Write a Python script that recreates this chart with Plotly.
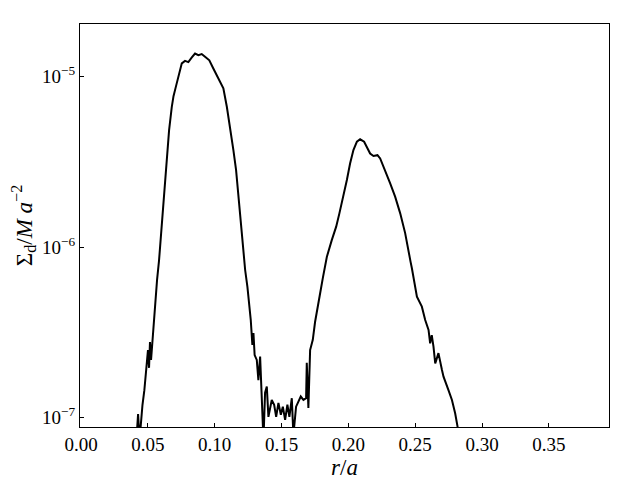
import plotly.graph_objects as go

r_over_a = [
    0.0412, 0.0427, 0.0438, 0.0449, 0.0460, 0.0474, 0.0483, 0.0492, 0.0501, 0.0509,
    0.0516, 0.0524, 0.0535, 0.0541, 0.0554, 0.0569, 0.0584, 0.0604, 0.0621, 0.0641,
    0.0659, 0.0679, 0.0692, 0.0709, 0.0722, 0.0736, 0.0754, 0.0778, 0.0803, 0.0829,
    0.0853, 0.0878, 0.0903, 0.0928, 0.0960, 0.0990, 0.1028, 0.1065, 0.1091, 0.1115,
    0.1140, 0.1160, 0.1177, 0.1203, 0.1228, 0.1245, 0.1270, 0.1282, 0.1290, 0.1299,
    0.1315, 0.1327, 0.1340, 0.1353, 0.1365, 0.1377, 0.1390, 0.1402, 0.1427, 0.1445,
    0.1460, 0.1477, 0.1495, 0.1510, 0.1527, 0.1544, 0.1559, 0.1577, 0.1589, 0.1609,
    0.1626, 0.1644, 0.1664, 0.1684, 0.1689, 0.1701, 0.1714, 0.1734, 0.1751, 0.1769,
    0.1789, 0.1809, 0.1839, 0.1876, 0.1909, 0.1933, 0.1963, 0.1989, 0.2013, 0.2038,
    0.2064, 0.2088, 0.2118, 0.2138, 0.2163, 0.2188, 0.2218, 0.2238, 0.2275, 0.2313,
    0.2350, 0.2388, 0.2425, 0.2450, 0.2466, 0.2475, 0.2500, 0.2513, 0.2550, 0.2575,
    0.2600, 0.2612, 0.2624, 0.2637, 0.2650, 0.2674, 0.2700, 0.2712, 0.2749, 0.2775,
    0.2799, 0.2817, 0.2829,
]

sigma_d = [
    6.9e-8, 1.05e-7, 7.4e-8, 9.7e-8, 1.19e-7, 1.45e-7, 1.71e-7, 1.91e-7, 2.49e-7, 1.96e-7,
    2.78e-7, 2.18e-7, 2.93e-7, 3.40e-7, 4.71e-7, 6.43e-7, 8.41e-7, 1.31e-6, 2.08e-6, 3.24e-6,
    4.87e-6, 6.64e-6, 7.70e-6, 8.70e-6, 9.57e-6, 1.05e-5, 1.20e-5, 1.24e-5, 1.22e-5, 1.30e-5,
    1.37e-5, 1.34e-5, 1.36e-5, 1.31e-5, 1.25e-5, 1.12e-5, 9.79e-6, 8.55e-6, 6.67e-6, 5.09e-6,
    3.71e-6, 2.84e-6, 2.08e-6, 1.21e-6, 7.35e-7, 5.85e-7, 3.74e-7, 2.67e-7, 3.14e-7, 2.33e-7,
    2.18e-7, 1.66e-7, 2.28e-7, 1.45e-7, 7.4e-8, 1.40e-7, 1.52e-7, 1.01e-7, 1.27e-7, 1.19e-7,
    1.01e-7, 1.22e-7, 1.04e-7, 1.16e-7, 9.7e-8, 1.19e-7, 1.01e-7, 1.30e-7, 7.9e-8, 1.16e-7,
    1.24e-7, 1.33e-7, 1.27e-7, 1.30e-7, 2.10e-7, 1.14e-7, 2.49e-7, 2.86e-7, 3.64e-7, 4.29e-7,
    5.37e-7, 6.59e-7, 8.77e-7, 1.10e-6, 1.32e-6, 1.58e-6, 1.98e-6, 2.48e-6, 3.10e-6, 3.72e-6,
    4.16e-6, 4.30e-6, 4.16e-6, 3.88e-6, 3.55e-6, 3.43e-6, 3.47e-6, 3.32e-6, 2.84e-6, 2.37e-6,
    1.98e-6, 1.58e-6, 1.21e-6, 9.21e-7, 8.18e-7, 7.55e-7, 5.86e-7, 5.13e-7, 4.48e-7, 3.74e-7,
    3.27e-7, 2.73e-7, 3.05e-7, 2.61e-7, 2.08e-7, 2.39e-7, 1.91e-7, 1.74e-7, 1.45e-7, 1.27e-7,
    1.06e-7, 8.85e-8, 6.9e-8,
]

x_tick_vals = [0.00, 0.05, 0.10, 0.15, 0.20, 0.25, 0.30, 0.35]
x_tick_text = ["0.00", "0.05", "0.10", "0.15", "0.20", "0.25", "0.30", "0.35"]
y_tick_vals = [1e-7, 1e-6, 1e-5]
y_tick_text = ["10<sup>−7</sup>", "10<sup>−6</sup>", "10<sup>−5</sup>"]

font_family = "Liberation Serif, DejaVu Serif, serif"

fig = go.Figure()
fig.add_trace(go.Scatter(
    x=r_over_a, y=sigma_d, mode="lines",
    line=dict(color="black", width=2),
    showlegend=False,
))

# page body has an 8px margin, so the figure is sized/offset to compensate
fig.update_layout(
    width=632, height=472,
    margin=dict(l=72, r=31, t=16, b=53, autoexpand=False),
    paper_bgcolor="white", plot_bgcolor="white",
    font=dict(family=font_family, color="black", size=19),
)
fig.update_xaxes(
    range=[-0.00075, 0.395], automargin=False,
    tickvals=x_tick_vals, ticktext=x_tick_text,
    ticks="inside", ticklen=4, tickwidth=1, tickcolor="black",
    showline=True, linecolor="black", linewidth=1.2, mirror=True,
    showgrid=False, zeroline=False,
    tickfont=dict(size=19, family=font_family),
    title=dict(text="<i>r</i>/<i>a</i>", font=dict(size=23, family=font_family)),
)
fig.update_yaxes(
    type="log", range=[-7.055, -4.69], automargin=False,
    tickvals=y_tick_vals, ticktext=y_tick_text,
    ticks="inside", ticklen=4, tickwidth=1, tickcolor="black",
    showline=True, linecolor="black", linewidth=1.2, mirror=True,
    showgrid=False, zeroline=False,
    tickfont=dict(size=19, family=font_family),
    title=dict(text="Σ<sub>d</sub>/<i>M a</i><sup>−2</sup>", font=dict(size=23, family=font_family)),
)

fig.write_html("out.html")
